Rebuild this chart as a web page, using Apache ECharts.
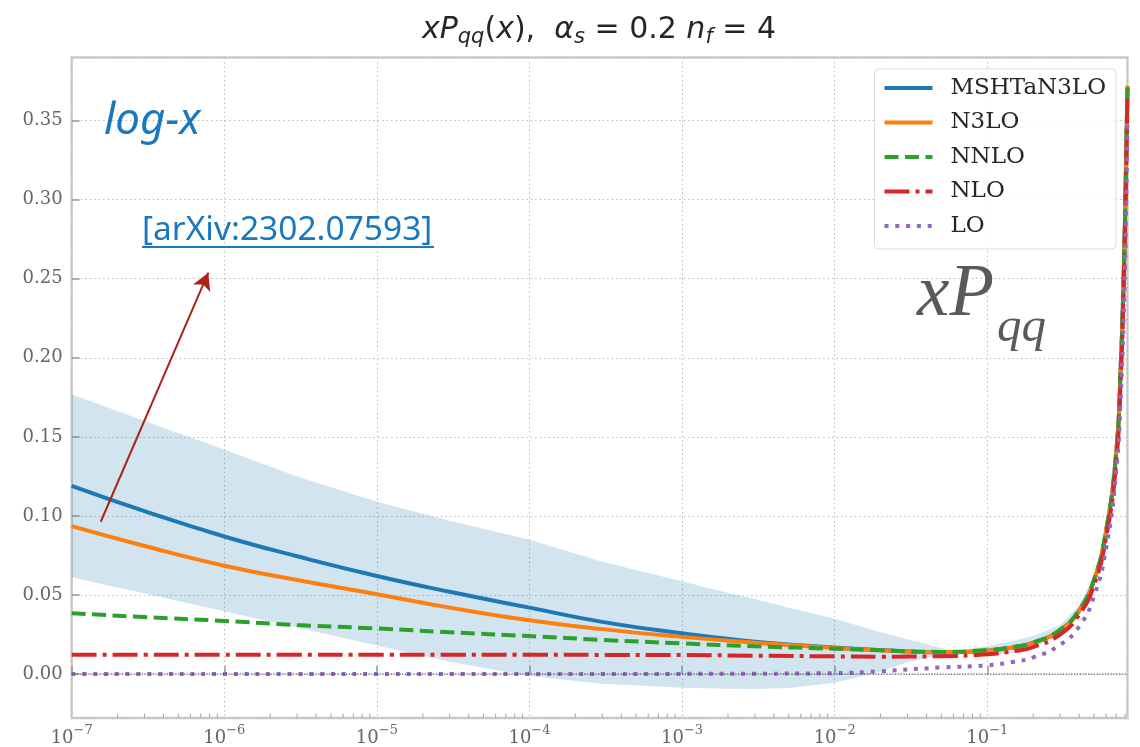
<!DOCTYPE html>
<html>
<head>
<meta charset="utf-8">
<script src="https://cdn.jsdelivr.net/npm/echarts@6/dist/echarts.min.js"></script>
<style>
  html, body { margin: 0; padding: 0; background: #ffffff; }
  #chart { width: 1140px; height: 747px; }
</style>
</head>
<body>
<div id="chart"></div>
<script>
// x grid on which the splitting functions xP_qq(x) are tabulated
const xGrid = [1e-7, 3e-7, 1e-6, 3e-6, 1e-5, 3e-5, 1e-4, 3e-4, 1e-3, 3e-3, 1e-2, 2e-2, 5e-2,
               0.1, 0.15, 0.2, 0.3, 0.4, 0.5, 0.6, 0.7, 0.75, 0.78, 0.8, 0.82, 0.83];

// xP_qq per perturbative order (alpha_s = 0.2, n_f = 4)
const mshtN3lo = [0.119, 0.103, 0.087, 0.0745, 0.062, 0.052, 0.042, 0.033, 0.0258, 0.0205, 0.0168, 0.0152, 0.0137,
                  0.0147, 0.017, 0.0198, 0.0278, 0.0402, 0.059, 0.090, 0.140, 0.195, 0.245, 0.290, 0.345, 0.371];
const n3lo     = [0.0935, 0.081, 0.0685, 0.0595, 0.0505, 0.042, 0.034, 0.0284, 0.0235, 0.0198, 0.0165, 0.015, 0.0138,
                  0.0148, 0.017, 0.0197, 0.0277, 0.040, 0.059, 0.090, 0.140, 0.195, 0.245, 0.290, 0.345, 0.372];
const nnlo     = [0.0385, 0.036, 0.0336, 0.031, 0.0288, 0.0264, 0.024, 0.0216, 0.0194, 0.0175, 0.016, 0.015, 0.014,
                  0.0152, 0.0172, 0.0198, 0.028, 0.0405, 0.0595, 0.0905, 0.140, 0.195, 0.245, 0.290, 0.345, 0.371];
const nlo      = [0.0122, 0.0122, 0.0122, 0.0122, 0.0122, 0.0122, 0.0122, 0.0121, 0.012, 0.0116, 0.0112, 0.011, 0.0113,
                  0.0125, 0.0145, 0.017, 0.025, 0.0375, 0.056, 0.086, 0.134, 0.188, 0.237, 0.283, 0.338, 0.368];
const lo       = [0, 0, 0, 0, 0, 0, 0, 0.00005, 0.0001, 0.0002, 0.0006, 0.0018, 0.0042,
                  0.0055, 0.0078, 0.0105, 0.0185, 0.030, 0.049, 0.079, 0.128, 0.176, 0.22, 0.26, 0.316, 0.35];

// MSHTaN3LO uncertainty band
const bandX     = [1e-7, 3e-7, 1e-6, 3e-6, 1e-5, 3e-5, 1e-4, 3e-4, 1e-3, 2e-3, 3e-3, 5e-3, 1e-2, 2e-2, 3e-2, 6e-2,
                   0.1, 0.15, 0.2, 0.3, 0.4, 0.5, 0.6, 0.7, 0.75, 0.78, 0.8, 0.82, 0.83];
const bandUpper = [0.177, 0.160, 0.142, 0.125, 0.109, 0.097, 0.085, 0.071, 0.0587, 0.0512, 0.0475, 0.042, 0.035, 0.0265, 0.022, 0.0145,
                   0.0175, 0.021, 0.024, 0.031, 0.0435, 0.062, 0.093, 0.143, 0.198, 0.248, 0.293, 0.348, 0.374];
const bandLower = [0.0612, 0.051, 0.0397, 0.0295, 0.0181, 0.0078, -0.0013, -0.0062, -0.0086, -0.0093, -0.0095, -0.0088, -0.0055, 0.0015, 0.0075, 0.0139,
                   0.0114, 0.0135, 0.0165, 0.0245, 0.037, 0.056, 0.087, 0.137, 0.192, 0.242, 0.287, 0.342, 0.368];

const seriesNames = ['MSHTaN3LO', 'N3LO', 'NNLO', 'NLO', 'LO'];

// axis extents
const xMin = 1e-7, xMax = 0.83;
const yMin = -0.0278, yMax = 0.3899;

// minor tick positions of the log axis (2..9 x 10^n)
const minorTicks = [];
for (let e = -7; e <= -1; e++) {
  for (let k = 2; k <= 9; k++) {
    const v = k * Math.pow(10, e);
    if (v < xMax) minorTicks.push(v);
  }
}

const pairs = (xs, ys) => xs.map((x, i) => [x, ys[i]]);

function curve(name, values, color, type, z) {
  return {
    name, type: 'line', data: pairs(xGrid, values),
    symbol: 'none', showSymbol: false, smooth: 0.5, z,
    lineStyle: { color, width: 4, type, cap: 'butt' },
    itemStyle: { color },
    emphasis: { disabled: true }
  };
}

const chart = echarts.init(document.getElementById('chart'));

chart.setOption({
  animation: false,
  backgroundColor: '#ffffff',
  grid: {
    left: 71.7, right: 12.5, top: 57.5, bottom: 28,
    show: true, borderColor: '#cccccc', borderWidth: 2.5, backgroundColor: '#ffffff'
  },
  xAxis: {
    type: 'log', logBase: 10, min: xMin, max: xMax,
    axisLine: { show: false },
    axisTick: { show: true, inside: true, length: 8, lineStyle: { color: '#999999', width: 1.5 } },
    splitLine: { show: true, lineStyle: { color: '#bbbbbb', width: 1, type: [1.5, 3] } },
    axisLabel: {
      margin: 6, showMaxLabel: false,
      formatter: function (v) {
        const e = Math.round(Math.log10(v));
        if (Math.abs(v - Math.pow(10, e)) / v > 1e-6) return '';
        return '{b|10}{s|\u2212' + (-e) + '}';
      },
      rich: {
        b: { fontFamily: 'DejaVu Serif', fontSize: 18, color: '#666666' },
        s: { fontFamily: 'DejaVu Serif', fontSize: 13, color: '#666666', padding: [0, 0, 15, 0] }
      }
    }
  },
  yAxis: {
    type: 'value', min: yMin, max: yMax, splitNumber: 8,
    axisLine: { show: false },
    axisTick: { show: true, inside: true, length: 8, lineStyle: { color: '#999999', width: 1.5 } },
    splitLine: { show: true, lineStyle: { color: '#bbbbbb', width: 1, type: [1.5, 3] } },
    axisLabel: {
      margin: 9, showMinLabel: false, showMaxLabel: false,
      fontFamily: 'DejaVu Serif', fontSize: 18, color: '#666666',
      formatter: function (v) {
        const k = v / 0.05;
        if (Math.abs(k - Math.round(k)) > 1e-6) return '';
        return v.toFixed(2);
      }
    }
  },
  legend: {
    data: seriesNames, orient: 'vertical',
    right: 24, top: 69,
    padding: [7, 10, 11, 8],
    itemWidth: 48, itemHeight: 14, itemGap: 10.5,
    itemStyle: { opacity: 0 },
    lineStyle: { width: 4 },
    backgroundColor: 'rgba(255,255,255,0.85)', borderColor: '#dddddd', borderWidth: 1, borderRadius: 4,
    textStyle: { fontFamily: 'DejaVu Serif', fontSize: 23, color: '#262626', lineHeight: 24, padding: [0, 0, 0, 13] },
    selectedMode: false
  },
  series: [
    {
      type: 'custom', name: 'band', silent: true, z: 1, clip: true,
      data: [[bandX[0], bandUpper[0]]],
      renderItem: function (params, api) {
        const pts = [];
        for (let i = 0; i < bandX.length; i++) pts.push(api.coord([bandX[i], bandUpper[i]]));
        for (let i = bandX.length - 1; i >= 0; i--) pts.push(api.coord([bandX[i], bandLower[i]]));
        return { type: 'polygon', shape: { points: pts }, style: { fill: 'rgba(31,119,180,0.2)' } };
      }
    },
    curve('MSHTaN3LO', mshtN3lo, '#1f77b4', 'solid', 3),
    curve('N3LO', n3lo, '#ff7f0e', 'solid', 4),
    curve('NNLO', nnlo, '#2ca02c', [14, 6.5], 5),
    curve('NLO', nlo, '#d62728', [25, 6, 4, 6], 6),
    curve('LO', lo, '#9467bd', [4, 6.8], 7),
    {
      // y = 0 reference line, plus the pointer to the reference
      type: 'line', name: 'zero', silent: true, z: 8,
      data: [[xMin, 0], [xMax, 0]], symbol: 'none',
      lineStyle: { color: '#333333', width: 1, type: [1.2, 1.6] },
      markLine: {
        silent: true, symbol: ['none', 'arrow'], symbolSize: [14, 17],
        label: { show: false },
        lineStyle: { color: '#a82418', width: 2, type: 'solid' },
        data: [[{ coord: [1.55e-7, 0.0963] }, { coord: [7.86e-7, 0.2538] }]]
      }
    },
    {
      // minor ticks of the log x axis
      type: 'custom', name: 'minorTicks', silent: true, z: 9, clip: false,
      data: minorTicks.map(v => [v, yMin]),
      renderItem: function (params, api) {
        const p = api.coord([api.value(0), yMin]);
        return {
          type: 'line',
          shape: { x1: p[0], y1: p[1], x2: p[0], y2: p[1] - 4.5 },
          style: { stroke: '#aaaaaa', lineWidth: 1 }
        };
      }
    }
  ],
  graphic: [
    {
      type: 'text', x: 599, y: 30, z: 100,
      style: {
        text: '{i|xP}{sub|qq}{r|(}{i|x}{r|),  }{i|\u03b1}{sub|s}{r| = 0.2 }{i|n}{sub|f}{r| = 4}',
        align: 'center', verticalAlign: 'middle',
        rich: {
          i: { fontFamily: 'DejaVu Sans', fontStyle: 'italic', fontSize: 30, fill: '#262626' },
          r: { fontFamily: 'DejaVu Sans', fontSize: 30, fill: '#262626' },
          sub: { fontFamily: 'DejaVu Sans', fontStyle: 'italic', fontSize: 21, fill: '#262626', padding: [16, 0, 0, 0] }
        }
      }
    },
    {
      type: 'text', x: 104, y: 121, z: 100,
      style: {
        text: 'log-x', fontFamily: 'Noto Sans', fontStyle: 'italic', fontSize: 44,
        fill: '#1a78bf', align: 'left', verticalAlign: 'middle'
      }
    },
    {
      type: 'text', x: 142, y: 230, z: 100,
      style: {
        text: '[arXiv:2302.07593]', fontFamily: 'Noto Sans', fontSize: 33.5,
        fill: '#1a78bf', align: 'left', verticalAlign: 'middle'
      }
    },
    {
      type: 'line', z: 100,
      shape: { x1: 142, y1: 247, x2: 434, y2: 247 },
      style: { stroke: '#1a78bf', lineWidth: 2 }
    },
    {
      type: 'text', x: 917, y: 296, z: 100,
      style: {
        text: 'xP', fontFamily: 'Liberation Serif', fontStyle: 'italic', fontSize: 73,
        fill: '#5a5a5a', align: 'left', verticalAlign: 'middle'
      }
    },
    {
      type: 'text', x: 997, y: 328, z: 100,
      style: {
        text: 'qq', fontFamily: 'Liberation Serif', fontStyle: 'italic', fontSize: 49,
        fill: '#5a5a5a', align: 'left', verticalAlign: 'middle'
      }
    }
  ]
});
</script>
</body>
</html>
